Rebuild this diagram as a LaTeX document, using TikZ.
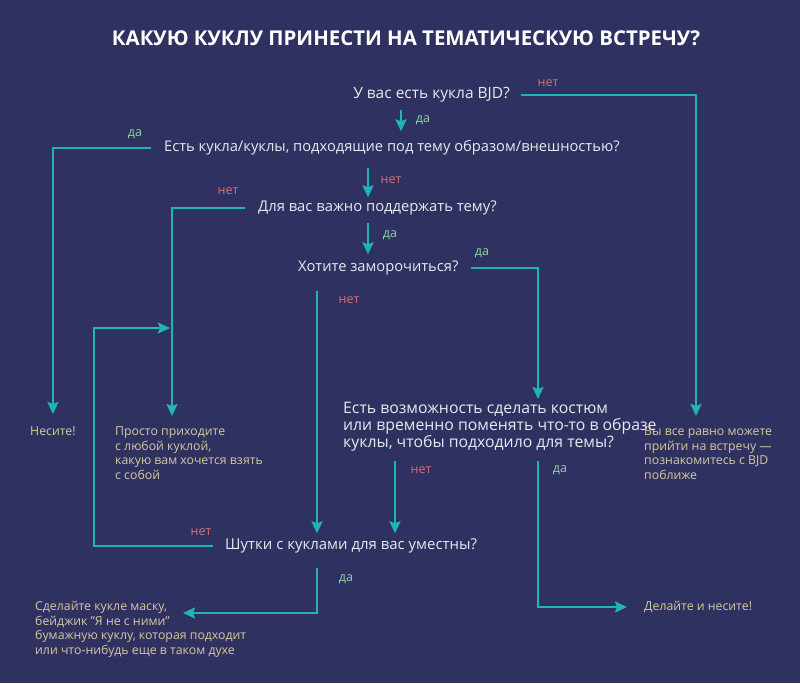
\documentclass[tikz,border=0pt]{standalone}
\usepackage{fontspec}
\setmainfont{Open Sans}
\usetikzlibrary{arrows.meta}
\definecolor{bgcol}{RGB}{47,50,97}
\definecolor{lncol}{RGB}{32,180,182}
\definecolor{qcol}{RGB}{232,232,240}
\definecolor{anscol}{RGB}{214,200,160}
\definecolor{nocol}{RGB}{218,108,122}
\definecolor{yescol}{RGB}{140,214,160}
\newcommand\qfs[1]{\fontsize{#1}{17}\selectfont}
\tikzset{
  titletext/.style={text=white,font=\bfseries\fontsize{20.4}{24}\selectfont,inner sep=0pt},
  qtext/.style={text=qcol,inner sep=0pt,text height=10pt,text depth=3pt},
  qmulti/.style={text=qcol,inner sep=0pt,align=left},
  anstext/.style={text=anscol,font=\fontsize{12.3}{14.5}\selectfont,inner sep=0pt,align=left},
  nolab/.style={text=nocol,font=\fontsize{12.5}{14}\selectfont,inner sep=0pt},
  yeslab/.style={text=yescol,font=\fontsize{12.5}{14}\selectfont,inner sep=0pt},
  arr/.style={draw=lncol,line width=2.2pt,-{Stealth[length=12pt,width=11pt,inset=2pt]}}
}
\begin{document}
\begin{tikzpicture}[x=1pt,y=-1pt]
\fill[bgcol] (0,0) rectangle (800,683);
\useasboundingbox (0,0) rectangle (800,683);

% column coordinates
\coordinate (x401) at (401,0);
\coordinate (x368) at (368,0);
\coordinate (x696) at (696,0);
\coordinate (x172) at (172,0);
\coordinate (x538) at (538,0);
\coordinate (x317) at (317,0);
\coordinate (x395) at (395,0);
\coordinate (tK) at (183,613);
\coordinate (tL) at (170,328);
\coordinate (xL) at (94,0);

\node[titletext] (title) at (406,38) {КАКУЮ КУКЛУ ПРИНЕСТИ НА ТЕМАТИЧЕСКУЮ ВСТРЕЧУ?};

\node[qtext,font=\qfs{15.5},anchor=east] (q1) at (510,95) {У вас есть кукла BJD?};
\node[qtext,font=\qfs{14.7},anchor=west] (q2) at (164,148) {Есть кукла/куклы, подходящие под тему образом/внешностью?};
\node[qtext,font=\qfs{14.8},anchor=west] (q3) at (258,208) {Для вас важно поддержать тему?};
\node[qtext,font=\qfs{14.7},anchor=west] (q4) at (298,268) {Хотите заморочиться?};
\node[qmulti,font=\qfs{15.8},anchor=north west] (q5) at (343,402) {Есть возможность сделать костюм\\или временно поменять что-то в образе\\куклы, чтобы подходило для темы?};
\node[qtext,font=\qfs{14.95},anchor=west] (q6) at (225,546) {Шутки с куклами для вас уместны?};

\node[anstext,anchor=north west] (r1) at (30,427) {Несите!};
\node[anstext,anchor=north west] (r2) at (115,427) {Просто приходите\\с любой куклой,\\какую вам хочется взять\\с собой};
\node[anstext,anchor=north west] (r3) at (644,427) {Вы все равно можете\\прийти на встречу —\\познакомитесь с BJD\\поближе};
\node[anstext,anchor=north west] (r4) at (35,601) {Сделайте кукле маску,\\бейджик "Я не с ними"\\бумажную куклу, которая подходит\\или что-нибудь еще в таком духе};
\node[anstext,anchor=west] (r5) at (644,607) {Делайте и несите!};

% labels
\node[nolab] (l1) at (548,83) {нет};
\node[yeslab] (l2) at (423,120) {да};
\node[yeslab] (l3) at (135,134) {да};
\node[nolab] (l4) at (391,180) {нет};
\node[nolab] (l5) at (228,191) {нет};
\node[yeslab] (l6) at (390,235) {да};
\node[yeslab] (l7) at (482,253) {да};
\node[nolab] (l8) at (349,300) {нет};
\node[nolab] (l9) at (421,470) {нет};
\node[yeslab] (l10) at (560,470) {да};
\node[nolab] (l11) at (201,532) {нет};
\node[yeslab] (l12) at (346,579) {да};

% connectors
\draw[arr,shorten >=11pt] ([xshift=11pt]q1.east) -| (r3.north -| x696);
\draw[arr,shorten <=8pt,shorten >=10pt] (q1.south -| x401) -- (q2.north -| x401);
\draw[arr,shorten >=13pt] ([xshift=-13pt]q2.west) -| (r1.north);
\draw[arr,shorten <=13pt,shorten >=4pt] (q2.south -| x368) -- (q3.north -| x368);
\draw[arr,shorten >=11pt] ([xshift=-13pt]q3.west) -| (r2.north -| x172);
\draw[arr,shorten <=8pt,shorten >=7pt] (q3.south -| x368) -- (q4.north -| x368);
\draw[arr,shorten >=3pt] ([xshift=12pt]q4.east) -| (q5.north -| x538);
\draw[arr,shorten <=16pt,shorten >=6pt] (q4.south -| x317) -- (q6.north -| x317);
\draw[arr,shorten <=10pt,shorten >=6pt] (q5.south -| x395) -- (q6.north -| x395);
\draw[arr,shorten <=10pt,shorten >=17pt] (q5.south -| x538) |- (r5.west);
\draw[arr,shorten <=15pt] (q6.south -| x317) |- (tK);
\draw[arr] ([xshift=-12pt]q6.west) -| (tL -| xL) -- (tL);
\end{tikzpicture}
\end{document}
